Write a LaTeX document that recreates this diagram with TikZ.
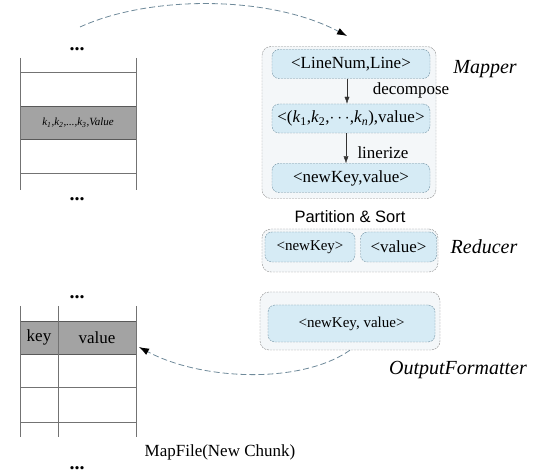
\documentclass[tikz,border=0pt]{standalone}
\usepackage{fontspec}
\setmainfont{Liberation Serif}
\newfontfamily\sansfont{Liberation Sans}
\usetikzlibrary{arrows.meta}
\definecolor{boxfill}{HTML}{D6EBF5}
\definecolor{boxline}{HTML}{6F8FA0}
\definecolor{outfill}{HTML}{F4F7F9}
\definecolor{linkcol}{HTML}{6F8A9A}
\begin{document}
\begin{tikzpicture}[x=1pt,y=-1pt,
  outer/.style={draw=black!45,dash pattern=on 2pt off 1pt,rounded corners=9pt,fill=outfill,inner sep=0pt},
  inner/.style={draw=boxline,dash pattern=on 2pt off 1pt,rounded corners=7pt,fill=boxfill,inner sep=0pt,
    minimum height=29pt,font=\fontsize{17}{17}\selectfont},
  row/.style={draw=black!65,fill=black!36,minimum width=116pt,minimum height=33pt,inner sep=0pt},
  txt/.style={font=\fontsize{17}{17}\selectfont},
  role/.style={font=\fontsize{20}{20}\selectfont\itshape},
  dots/.style={font=\fontsize{20}{20}\selectfont\bfseries,anchor=base},
  grid/.style={draw=black!55,line width=0.7pt},
  flowstep/.style={black!80,-{Latex[length=7pt,width=5pt]}},
  link/.style={draw=linkcol,dash pattern=on 6pt off 3pt,line width=0.8pt,-{Latex[length=10pt,width=7pt,color=black]}}]
\useasboundingbox (0,0) rectangle (547,473);
% input chunk
\node[row,font=\fontsize{11}{11}\selectfont\itshape] (inrow) at (78,122.5) {k\textsubscript{1},k\textsubscript{2},...,k\textsubscript{3},Value};
\draw[grid] (20,58) -- (20,190) (136,58) -- (136,190) (20,72) -- (136,72) (20,173) -- (136,173);
\node[dots] (intop) at (77,51) {...};
\node[dots] (inbot) at (77,201) {...};
% mapper
\node[outer,minimum width=174pt,minimum height=152pt] (mapper) at (349,122.5) {};
\node[inner,minimum width=158pt] (linein) at (351,64) {<LineNum,Line>};
\node[inner,minimum width=158pt] (tuple) at (351,118.5) {<(\textit{k}\textsubscript{1},\textit{k}\textsubscript{2},$\cdots$,\textit{k}\textsubscript{\textit{n}}),value>};
\node[inner,minimum width=158pt] (keyval) at (351,178) {<newKey,value>};
\draw[flowstep] ([xshift=-4pt]linein.south) -- ([xshift=-4pt]tuple.north);
\draw[flowstep] ([xshift=-5pt]tuple.south) -- ([xshift=-5pt]keyval.north);
\node[txt] (decomp) at (411,90) {decompose};
\node[txt] (linz) at (383,153) {linerize};
\node[role] (mapname) at (485,69) {Mapper};
% reducer
\node[font=\sansfont\fontsize{16.5}{16.5}\selectfont] (part) at (350,217) {Partition \& Sort};
\node[outer,minimum width=176pt,minimum height=43pt] (reducer) at (350,250.5) {};
\node[inner,minimum width=90pt,minimum height=30pt,font=\fontsize{15}{15}\selectfont] (rkey) at (310,247) {<newKey>};
\node[inner,minimum width=76pt,minimum height=30pt] (rval) at (398.5,247) {<value>};
\node[role] (redname) at (484,247) {Reducer};
% output formatter
\node[outer,minimum width=180pt,minimum height=58pt] (formatter) at (350,321) {};
\node[inner,minimum width=167pt,minimum height=37pt,font=\fontsize{15}{15}\selectfont] (outkv) at (351.5,323.5) {<newKey, value>};
\node[role] (fmtname) at (458,370) {OutputFormatter};
% new chunk
\node[row] (outrow) at (78,337.5) {};
\draw[grid] (20,306) -- (20,437) (58,306) -- (58,437) (136,306) -- (136,437) (20,387) -- (136,387) (20,422) -- (136,422);
\node[txt] (keycell) at (39,337.5) {key};
\node[txt] (valcell) at (97,337.5) {value};
\node[dots] (outtop) at (77,299) {...};
\node[dots] (outbot) at (77,470) {...};
\node[txt] (mapfile) at (220,452) {MapFile(New Chunk)};
% links
\coordinate (src) at (80,27);
\coordinate (mapin) at (347,36);
\coordinate (mapout) at (139,347);
\draw[link] (src) .. controls (150,-5) and (270,-5) .. (mapin);
\draw[link] (formatter.south) .. controls (300,385) and (200,380) .. (mapout);
\end{tikzpicture}
\end{document}
